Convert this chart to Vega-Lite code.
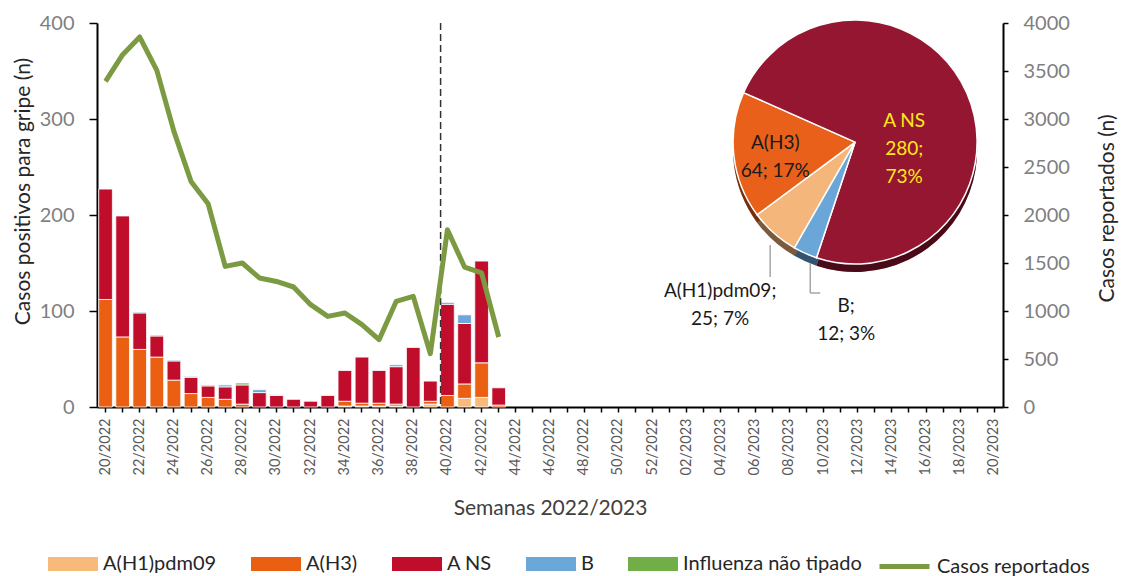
{
  "$schema": "https://vega.github.io/schema/vega-lite/v6.json",
  "width": 906,
  "height": 384,
  "autosize": "none",
  "padding": {"left": 97, "top": 23, "right": 119, "bottom": 169},
  "background": "white",
  "config": {
    "font": "Lato",
    "view": {"stroke": null},
    "axis": {
      "grid": false,
      "domainColor": "black",
      "domainWidth": 2,
      "tickColor": "black",
      "tickWidth": 1.5,
      "labelFont": "Lato",
      "titleFont": "Lato",
      "titleFontWeight": "normal",
      "labelColor": "#7f7f7f",
      "titleColor": "#262626"
    },
    "text": {"font": "Lato"}
  },
  "datasets": {
    "barras": [
      {"semana": "20/2022", "tipo": "A(H3)", "n": 112},
      {"semana": "20/2022", "tipo": "A NS", "n": 115},
      {"semana": "21/2022", "tipo": "A(H3)", "n": 73},
      {"semana": "21/2022", "tipo": "A NS", "n": 126},
      {"semana": "22/2022", "tipo": "A(H3)", "n": 60},
      {"semana": "22/2022", "tipo": "A NS", "n": 38},
      {"semana": "22/2022", "tipo": "B", "n": 1},
      {"semana": "23/2022", "tipo": "A(H3)", "n": 52},
      {"semana": "23/2022", "tipo": "A NS", "n": 22},
      {"semana": "23/2022", "tipo": "B", "n": 1},
      {"semana": "24/2022", "tipo": "A(H3)", "n": 28},
      {"semana": "24/2022", "tipo": "A NS", "n": 20},
      {"semana": "24/2022", "tipo": "B", "n": 1},
      {"semana": "25/2022", "tipo": "A(H3)", "n": 14},
      {"semana": "25/2022", "tipo": "A NS", "n": 17},
      {"semana": "25/2022", "tipo": "B", "n": 1},
      {"semana": "26/2022", "tipo": "A(H3)", "n": 10},
      {"semana": "26/2022", "tipo": "A NS", "n": 12},
      {"semana": "26/2022", "tipo": "B", "n": 1},
      {"semana": "27/2022", "tipo": "A(H3)", "n": 8},
      {"semana": "27/2022", "tipo": "A NS", "n": 13},
      {"semana": "27/2022", "tipo": "B", "n": 2},
      {"semana": "28/2022", "tipo": "A(H3)", "n": 3},
      {"semana": "28/2022", "tipo": "A NS", "n": 20},
      {"semana": "28/2022", "tipo": "Influenza não tipado", "n": 2},
      {"semana": "29/2022", "tipo": "A NS", "n": 15},
      {"semana": "29/2022", "tipo": "B", "n": 3},
      {"semana": "30/2022", "tipo": "A NS", "n": 12},
      {"semana": "30/2022", "tipo": "B", "n": 1},
      {"semana": "31/2022", "tipo": "A NS", "n": 8},
      {"semana": "32/2022", "tipo": "A NS", "n": 6},
      {"semana": "33/2022", "tipo": "A NS", "n": 12},
      {"semana": "34/2022", "tipo": "A(H1)pdm09", "n": 1},
      {"semana": "34/2022", "tipo": "A(H3)", "n": 5},
      {"semana": "34/2022", "tipo": "A NS", "n": 32},
      {"semana": "35/2022", "tipo": "A(H1)pdm09", "n": 1},
      {"semana": "35/2022", "tipo": "A(H3)", "n": 3},
      {"semana": "35/2022", "tipo": "A NS", "n": 48},
      {"semana": "36/2022", "tipo": "A(H1)pdm09", "n": 1},
      {"semana": "36/2022", "tipo": "A(H3)", "n": 3},
      {"semana": "36/2022", "tipo": "A NS", "n": 34},
      {"semana": "37/2022", "tipo": "A(H1)pdm09", "n": 1},
      {"semana": "37/2022", "tipo": "A(H3)", "n": 2},
      {"semana": "37/2022", "tipo": "A NS", "n": 39},
      {"semana": "37/2022", "tipo": "B", "n": 2},
      {"semana": "38/2022", "tipo": "A NS", "n": 62},
      {"semana": "39/2022", "tipo": "A(H1)pdm09", "n": 3},
      {"semana": "39/2022", "tipo": "A(H3)", "n": 3},
      {"semana": "39/2022", "tipo": "A NS", "n": 21},
      {"semana": "40/2022", "tipo": "A(H3)", "n": 12},
      {"semana": "40/2022", "tipo": "A NS", "n": 95},
      {"semana": "40/2022", "tipo": "B", "n": 2},
      {"semana": "41/2022", "tipo": "A(H1)pdm09", "n": 9},
      {"semana": "41/2022", "tipo": "A(H3)", "n": 15},
      {"semana": "41/2022", "tipo": "A NS", "n": 63},
      {"semana": "41/2022", "tipo": "B", "n": 9},
      {"semana": "42/2022", "tipo": "A(H1)pdm09", "n": 10},
      {"semana": "42/2022", "tipo": "A(H3)", "n": 36},
      {"semana": "42/2022", "tipo": "A NS", "n": 106},
      {"semana": "43/2022", "tipo": "A(H3)", "n": 2},
      {"semana": "43/2022", "tipo": "A NS", "n": 18}
    ],
    "casos": [
      {"semana": "20/2022", "casos": 3392},
      {"semana": "21/2022", "casos": 3670},
      {"semana": "22/2022", "casos": 3854},
      {"semana": "23/2022", "casos": 3506},
      {"semana": "24/2022", "casos": 2871},
      {"semana": "25/2022", "casos": 2350},
      {"semana": "26/2022", "casos": 2118},
      {"semana": "27/2022", "casos": 1465},
      {"semana": "28/2022", "casos": 1500},
      {"semana": "29/2022", "casos": 1344},
      {"semana": "30/2022", "casos": 1308},
      {"semana": "31/2022", "casos": 1250},
      {"semana": "32/2022", "casos": 1066},
      {"semana": "33/2022", "casos": 944},
      {"semana": "34/2022", "casos": 979},
      {"semana": "35/2022", "casos": 858},
      {"semana": "36/2022", "casos": 701},
      {"semana": "37/2022", "casos": 1100},
      {"semana": "38/2022", "casos": 1152},
      {"semana": "39/2022", "casos": 555},
      {"semana": "40/2022", "casos": 1847},
      {"semana": "41/2022", "casos": 1458},
      {"semana": "42/2022", "casos": 1396},
      {"semana": "43/2022", "casos": 729}
    ],
    "pizza": [
      {"tipo": "A(H1)pdm09", "n": 25, "rotulo": ["A(H1)pdm09;", "25; 7%"]},
      {"tipo": "A(H3)", "n": 64, "rotulo": ["A(H3)", "64; 17%"]},
      {"tipo": "A NS", "n": 280, "rotulo": ["A NS", "280;", "73%"]},
      {"tipo": "B", "n": 12, "rotulo": ["B;", "12; 3%"]}
    ]
  },
  "layer": [
    {
      "layer": [
        {
          "data": {"name": "barras"},
          "transform": [{"calculate": "indexof(['A(H1)pdm09','A(H3)','A NS','B','Influenza não tipado'], datum.tipo)", "as": "ordem"}],
          "mark": {"type": "bar", "stroke": "white", "strokeWidth": 0.8},
          "encoding": {
            "x": {
              "field": "semana",
              "type": "nominal",
              "scale": {
                "domain": ["20/2022","21/2022","22/2022","23/2022","24/2022","25/2022","26/2022","27/2022","28/2022","29/2022","30/2022","31/2022","32/2022","33/2022","34/2022","35/2022","36/2022","37/2022","38/2022","39/2022","40/2022","41/2022","42/2022","43/2022","44/2022","45/2022","46/2022","47/2022","48/2022","49/2022","50/2022","51/2022","52/2022","01/2023","02/2023","03/2023","04/2023","05/2023","06/2023","07/2023","08/2023","09/2023","10/2023","11/2023","12/2023","13/2023","14/2023","15/2023","16/2023","17/2023","18/2023","19/2023","20/2023"],
                "paddingInner": 0.2,
                "paddingOuter": 0.1
              },
              "axis": {
                "title": "Semanas 2022/2023",
                "labelAngle": -90,
                "labelFontSize": 14.5,
                "labelColor": "#595959",
                "labelOverlap": false,
                "labelExpr": "parseInt(slice(datum.label, 0, 2)) % 2 === 0 ? datum.label : ''",
                "tickSize": 5,
                "labelPadding": 6,
                "titleFontSize": 21,
                "titleColor": "#404040",
                "titlePadding": 22
              }
            },
            "y": {
              "field": "n",
              "type": "quantitative",
              "stack": "zero",
              "scale": {"domain": [0, 400], "nice": false},
              "axis": {
                "title": "Casos positivos para gripe (n)",
                "values": [0, 100, 200, 300, 400],
                "tickSize": 8,
                "labelPadding": 15,
                "labelFontSize": 20,
                "titleFontSize": 21,
                "titlePadding": 6,
                "titleY": 168
              }
            },
            "order": {"field": "ordem", "type": "quantitative", "sort": "ascending"},
            "color": {
              "field": "tipo",
              "type": "nominal",
              "scale": {
                "domain": ["A(H1)pdm09", "A(H3)", "A NS", "B", "Influenza não tipado"],
                "range": ["#F7BA7B", "#EA5F12", "#C00D2C", "#6CA7DA", "#71AE48"]
              },
              "legend": {
                "title": null,
                "orient": "none",
                "legendX": -49,
                "legendY": 516,
                "direction": "horizontal",
                "columnPadding": 34,
                "labelFontSize": 20,
                "labelFont": "Lato",
                "labelColor": "#262626",
                "labelOffset": 5,
                "labelLimit": 0,
                "symbolSize": 2500,
                "symbolType": "M-1,-0.28H1V0.28H-1Z",
                "symbolStrokeWidth": 0,
                "padding": 0
              }
            }
          }
        },
        {
          "data": {"name": "casos"},
          "transform": [{"filter": "datum.semana === '40/2022'"}],
          "mark": {"type": "rule", "strokeDash": [7, 4], "strokeWidth": 1.5, "color": "#333333"},
          "encoding": {
            "x": {"datum": "40/2022", "type": "nominal", "bandPosition": 0}
          }
        },
        {
          "data": {"name": "pizza"},
          "transform": [{"calculate": "indexof(['A(H1)pdm09','A(H3)','A NS','B'], datum.tipo)", "as": "ordem"}],
          "mark": {"type": "arc", "outerRadius": 122},
          "encoding": {
            "x": {"datum": "12/2023", "type": "nominal", "bandPosition": 0.31},
            "y": {"datum": 267.7, "type": "quantitative"},
            "theta": {"field": "n", "type": "quantitative", "stack": true, "scale": {"range": [3.662, 9.945]}},
            "order": {"field": "ordem", "type": "quantitative", "sort": "ascending"},
            "fill": {
              "field": "tipo",
              "type": "nominal",
              "scale": {"domain": ["A(H1)pdm09", "A(H3)", "A NS", "B"], "range": ["#F4B67A", "#E8601A", "#951631", "#6AA6D8"]},
              "legend": null
            }
          }
        },
        {
          "data": {"name": "pizza"},
          "transform": [{"calculate": "indexof(['A(H1)pdm09','A(H3)','A NS','B'], datum.tipo)", "as": "ordem"}],
          "mark": {"type": "arc", "outerRadius": 122, "fill": "black", "opacity": 0.5},
          "encoding": {
            "x": {"datum": "12/2023", "type": "nominal", "bandPosition": 0.31},
            "y": {"datum": 267.7, "type": "quantitative"},
            "theta": {"field": "n", "type": "quantitative", "stack": true, "scale": {"range": [3.662, 9.945]}},
            "order": {"field": "ordem", "type": "quantitative", "sort": "ascending"}
          }
        },
        {
          "data": {"name": "pizza"},
          "transform": [{"calculate": "indexof(['A(H1)pdm09','A(H3)','A NS','B'], datum.tipo)", "as": "ordem"}],
          "mark": {"type": "arc", "outerRadius": 122, "stroke": "white", "strokeWidth": 1.5},
          "encoding": {
            "x": {"datum": "12/2023", "type": "nominal", "bandPosition": 0.31},
            "y": {"datum": 276, "type": "quantitative"},
            "theta": {"field": "n", "type": "quantitative", "stack": true, "scale": {"range": [3.662, 9.945]}},
            "order": {"field": "ordem", "type": "quantitative", "sort": "ascending"},
            "fill": {"field": "tipo", "type": "nominal", "legend": null}
          }
        },
        {
          "data": {"name": "pizza"},
          "transform": [{"filter": "datum.tipo === 'A(H1)pdm09'"}],
          "mark": {"type": "rule", "color": "#A6A6A6", "strokeWidth": 1.5},
          "encoding": {
            "x": {"datum": "07/2023", "type": "nominal", "bandPosition": 0.35},
            "y": {"datum": 168.8, "type": "quantitative"},
            "y2": {"datum": 135.4}
          }
        },
        {
          "data": {"name": "pizza"},
          "transform": [{"filter": "datum.tipo === 'B'"}],
          "mark": {"type": "rule", "color": "#A6A6A6", "strokeWidth": 1.5},
          "encoding": {
            "x": {"datum": "09/2023", "type": "nominal", "bandPosition": 0.78},
            "y": {"datum": 150, "type": "quantitative"},
            "y2": {"datum": 118.75}
          }
        },
        {
          "data": {"name": "pizza"},
          "transform": [{"filter": "datum.tipo === 'B'"}],
          "mark": {"type": "rule", "color": "#A6A6A6", "strokeWidth": 1.5},
          "encoding": {
            "x": {"datum": "09/2023", "type": "nominal", "bandPosition": 0.78},
            "x2": {"datum": "10/2023", "bandPosition": 0.26},
            "y": {"datum": 118.75, "type": "quantitative"}
          }
        },
        {
          "data": {"name": "pizza"},
          "transform": [{"filter": "datum.tipo === 'A NS'"}],
          "mark": {"type": "text", "fontSize": 19, "lineHeight": 28, "align": "center", "baseline": "middle", "color": "#FFE81A"},
          "encoding": {
            "x": {"datum": "15/2023", "type": "nominal", "bandPosition": 0.15},
            "y": {"datum": 298, "type": "quantitative"},
            "text": {"field": "rotulo"}
          }
        },
        {
          "data": {"name": "pizza"},
          "transform": [{"filter": "datum.tipo === 'A(H3)'"}],
          "mark": {"type": "text", "fontSize": 19, "lineHeight": 28, "align": "center", "baseline": "middle", "color": "#1a1a1a"},
          "encoding": {
            "x": {"datum": "07/2023", "type": "nominal", "bandPosition": 0.72},
            "y": {"datum": 274.5, "type": "quantitative"},
            "text": {"field": "rotulo"}
          }
        },
        {
          "data": {"name": "pizza"},
          "transform": [{"filter": "datum.tipo === 'A(H1)pdm09'"}],
          "mark": {"type": "text", "fontSize": 19, "lineHeight": 28, "align": "center", "baseline": "middle", "color": "#1a1a1a"},
          "encoding": {
            "x": {"datum": "04/2023", "type": "nominal", "bandPosition": 0.44},
            "y": {"datum": 120.8, "type": "quantitative"},
            "text": {"field": "rotulo"}
          }
        },
        {
          "data": {"name": "pizza"},
          "transform": [{"filter": "datum.tipo === 'B'"}],
          "mark": {"type": "text", "fontSize": 19, "lineHeight": 28, "align": "center", "baseline": "middle", "color": "#1a1a1a"},
          "encoding": {
            "x": {"datum": "11/2023", "type": "nominal", "bandPosition": 0.91},
            "y": {"datum": 105.2, "type": "quantitative"},
            "text": {"field": "rotulo"}
          }
        }
      ]
    },
    {
      "data": {"name": "casos"},
      "mark": {"type": "line", "strokeWidth": 5, "strokeJoin": "round"},
      "encoding": {
        "x": {"field": "semana", "type": "nominal"},
        "y": {
          "field": "casos",
          "type": "quantitative",
          "scale": {"domain": [0, 4000], "nice": false},
          "axis": {
            "orient": "right",
            "title": "Casos reportados (n)",
            "format": "d",
            "values": [0, 500, 1000, 1500, 2000, 2500, 3000, 3500, 4000],
            "tickSize": 5,
            "labelPadding": 15,
            "labelFontSize": 20,
            "titleFontSize": 21,
            "titleAngle": -90,
            "titleBaseline": "top",
            "titlePadding": 27,
            "titleY": 185
          }
        },
        "stroke": {
          "datum": "Casos reportados",
          "type": "nominal",
          "scale": {"domain": ["Casos reportados"], "range": ["#7C9A41"]},
          "legend": {
            "title": null,
            "orient": "none",
            "legendX": 780,
            "legendY": 516,
            "labelFontSize": 20,
            "labelFont": "Lato",
            "labelColor": "#262626",
            "labelOffset": 5,
            "labelLimit": 0,
            "symbolSize": 2500,
            "symbolType": "M-1,0H1",
            "symbolStrokeWidth": 5,
            "padding": 0
          }
        }
      }
    }
  ],
  "resolve": {"scale": {"y": "independent"}}
}
